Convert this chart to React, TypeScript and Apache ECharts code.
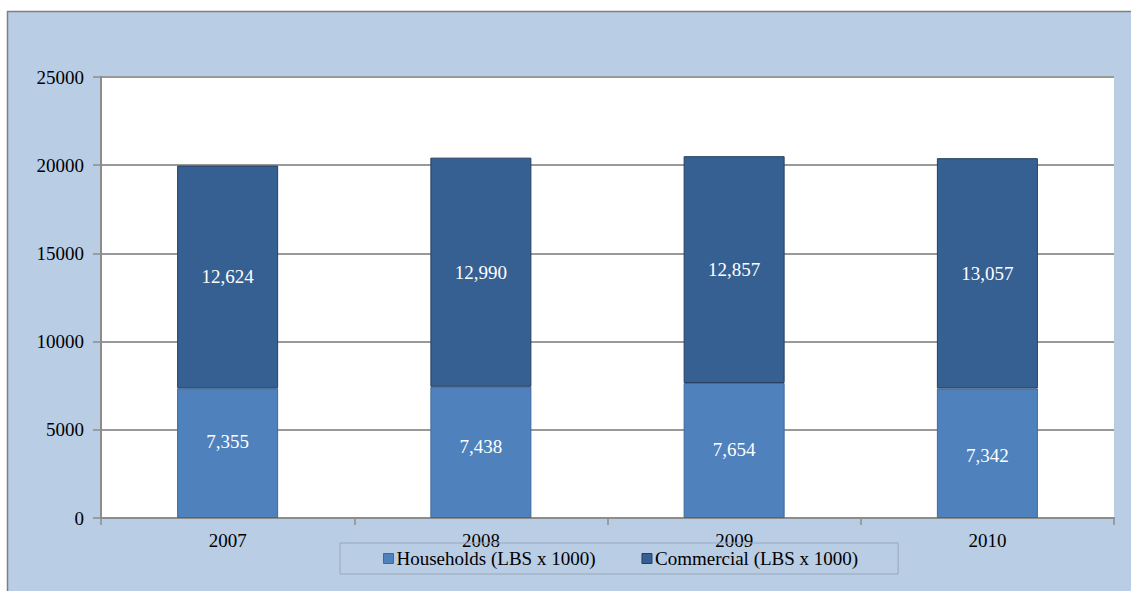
import React, { useEffect, useRef } from "react";
import * as echarts from "echarts";

const years = ["2007", "2008", "2009", "2010"];
const households = [7355, 7438, 7654, 7342];
const commercial = [12624, 12990, 12857, 13057];
const householdLabelShift = [-12, -6, -1, 2];

const FONT = "'Liberation Serif', 'Times New Roman', serif";

export default function App() {
  const ref = useRef<HTMLDivElement>(null);
  useEffect(() => {
    if (!ref.current) return;
    const chart = echarts.init(ref.current, undefined, { renderer: "svg" });
    const fmt = (p: any) => Number(p.value).toLocaleString("en-US");
    chart.setOption({
      animation: false,
      backgroundColor: "#ffffff",
      graphic: [
        {
          type: "rect",
          z: -10,
          silent: true,
          shape: { x: 7.5, y: 11.5, width: 1140, height: 600 },
          style: { fill: "#B9CDE5", stroke: "#7F7F7F", lineWidth: 1.5 },
        },
      ],
      grid: {
        left: 101,
        right: 17,
        top: 77,
        bottom: 73,
        show: true,
        backgroundColor: "#ffffff",
        borderWidth: 0,
        z: 0,
      },
      legend: {
        left: 340,
        top: 543,
        padding: [6, 40, 6, 43],
        itemGap: 46,
        itemWidth: 10,
        itemHeight: 10,
        borderColor: "#9AA7B8",
        borderWidth: 1,
        borderRadius: 0,
        icon: "rect",
        textStyle: { fontFamily: FONT, fontSize: 19, color: "#000", padding: [0, 0, 0, -2] },
        data: [
          { name: "Households (LBS x 1000)", itemStyle: { borderColor: "#3A6A9E", borderWidth: 1 } },
          { name: "Commercial (LBS x 1000)", itemStyle: { borderColor: "#243F60", borderWidth: 1 } },
        ],
      },
      xAxis: {
        type: "category",
        data: years,
        axisLine: { lineStyle: { color: "#8C8C8C", width: 2 } },
        axisTick: { show: true, length: 7, lineStyle: { color: "#8C8C8C", width: 1.5 } },
        axisLabel: { fontFamily: FONT, fontSize: 19, color: "#000", margin: 13 },
        splitLine: { show: false },
      },
      yAxis: {
        type: "value",
        min: 0,
        max: 25000,
        interval: 5000,
        axisLine: { show: true, lineStyle: { color: "#8C8C8C", width: 2 } },
        axisTick: { show: true, length: 8, lineStyle: { color: "#8C8C8C", width: 1.5 } },
        axisLabel: {
          fontFamily: FONT,
          fontSize: 19,
          color: "#000",
          margin: 17,
          formatter: (v: number) => String(v),
        },
        splitLine: { show: true, lineStyle: { color: "#999999", width: 2 } },
      },
      series: [
        {
          name: "Households (LBS x 1000)",
          type: "bar",
          stack: "total",
          data: households.map((v, i) => ({
            value: v,
            label: { offset: [0, householdLabelShift[i]] },
          })),
          barWidth: 101,
          itemStyle: { color: "#4F81BD", borderColor: "#3A6A9E", borderWidth: 1 },
          label: {
            show: true,
            position: "inside",
            color: "#fff",
            fontFamily: FONT,
            fontSize: 19,
            formatter: fmt,
          },
        },
        {
          name: "Commercial (LBS x 1000)",
          type: "bar",
          stack: "total",
          data: commercial,
          barWidth: 101,
          itemStyle: { color: "#376092", borderColor: "#243F60", borderWidth: 1 },
          label: {
            show: true,
            position: "inside",
            color: "#fff",
            fontFamily: FONT,
            fontSize: 19,
            formatter: fmt,
          },
        },
      ],
    });
    return () => chart.dispose();
  }, []);
  return (
    <div
      ref={ref}
      style={{ position: "absolute", left: 0, top: 0, width: 1131, height: 591 }}
    />
  );
}
